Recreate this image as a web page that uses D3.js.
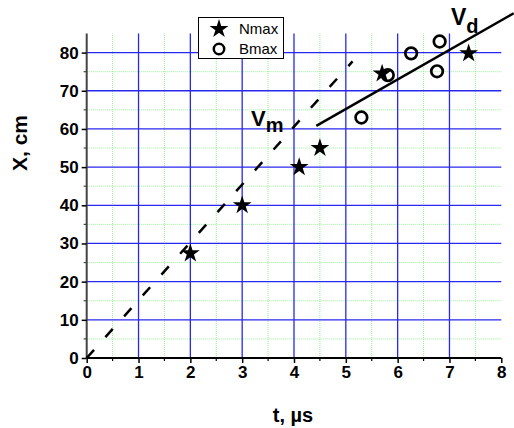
<!DOCTYPE html>
<html><head><meta charset="utf-8">
<script src="https://cdn.jsdelivr.net/npm/d3@7"></script>
<style>html,body{margin:0;padding:0;background:#fff;}svg{display:block;font-family:"Liberation Sans",Arial,sans-serif;}</style>
</head><body>
<svg id="c" width="514" height="428"></svg>
<script>
// Data
const nmaxT = [2.0, 3.0, 4.1, 4.5, 5.7, 7.37];
const nmaxX = [27.4, 40.0, 50.0, 55.0, 74.5, 79.8];
const bmaxT = [5.3, 5.81, 6.26, 6.76, 6.81];
const bmaxX = [63.0, 74.1, 79.8, 75.1, 82.9];
const vmT = [0, 5.13];
const vmX = [0, 77.7];
const vdT = [4.43, 8.24];
const vdX = [60.8, 90.3];
const xTicks = [0, 1, 2, 3, 4, 5, 6, 7, 8];
const yTicks = [0, 10, 20, 30, 40, 50, 60, 70, 80];
const xMinor = [0.5, 1.5, 2.5, 3.5, 4.5, 5.5, 6.5, 7.5];
const yMinor = [5, 15, 25, 35, 45, 55, 65, 75];
const legendLabels = ["Nmax", "Bmax"];

const svg = d3.select("#c");
const x = d3.scaleLinear().domain([0, 8]).range([86.7, 501.3]);
const y = d3.scaleLinear().domain([0, 85]).range([358, 33.5]);

// minor grid (green dotted)
const g = svg.append("g");
g.selectAll(".mv").data(xMinor).join("line")
  .attr("x1", d => x(d)).attr("x2", d => x(d)).attr("y1", y(0)).attr("y2", y(85))
  .attr("stroke", "#99ee99").attr("stroke-width", 1).attr("stroke-dasharray", "1,1");
g.selectAll(".mh").data(yMinor).join("line")
  .attr("x1", x(0)).attr("x2", x(8)).attr("y1", d => y(d)).attr("y2", d => y(d))
  .attr("stroke", "#99ee99").attr("stroke-width", 1).attr("stroke-dasharray", "1,1");
// major grid (blue)
g.selectAll(".Mv").data(xTicks.filter(d => d > 0 && d < 8)).join("line")
  .attr("x1", d => x(d)).attr("x2", d => x(d)).attr("y1", y(0)).attr("y2", y(85))
  .attr("stroke", "#2828f0").attr("stroke-width", 1.3);
g.selectAll(".Mh").data(yTicks.filter(d => d > 0)).join("line")
  .attr("x1", x(0)).attr("x2", x(8)).attr("y1", d => y(d)).attr("y2", d => y(d))
  .attr("stroke", "#2828f0").attr("stroke-width", 1.3);

// axes
const xAxis = svg.append("g").attr("transform", `translate(0,${y(0)})`)
  .call(d3.axisBottom(x).tickValues(xTicks).tickSize(5).tickPadding(3).tickFormat(d3.format("d")));
const yAxis = svg.append("g").attr("transform", `translate(${x(0)},0)`)
  .call(d3.axisLeft(y).tickValues(yTicks).tickSize(5).tickPadding(3).tickFormat(d3.format("d")));
[xAxis, yAxis].forEach(a => {
  a.select(".domain").attr("stroke-width", 2);
  a.selectAll(".tick line").attr("stroke-width", 1.5);
  a.selectAll("text").attr("font-size", 17).attr("font-weight", "bold").attr("fill", "#000")
    .attr("font-family", "'Liberation Sans',Arial,sans-serif");
});
yAxis.select(".domain").attr("stroke", "#444").attr("d", `M0,${y(0)}V${y(85)}`);
xAxis.select(".domain").attr("stroke", "#000").attr("d", `M${x(0)},0H${x(8)}`);
// minor ticks
xAxis.selectAll(".mt").data(xMinor).join("line")
  .attr("x1", d => x(d)).attr("x2", d => x(d)).attr("y1", 0).attr("y2", 3)
  .attr("stroke", "#000").attr("stroke-width", 1.2);
yAxis.selectAll(".mt").data(yMinor).join("line")
  .attr("x1", 0).attr("x2", -3).attr("y1", d => y(d)).attr("y2", d => y(d))
  .attr("stroke", "#444").attr("stroke-width", 1.2);

// axis titles
svg.append("text").attr("x", 293).attr("y", 422).attr("text-anchor", "middle")
  .attr("font-size", 20).attr("font-weight", "bold").text("t, µs");
svg.append("text").attr("transform", "translate(27,143) rotate(-90)").attr("text-anchor", "middle")
  .attr("font-size", 21).attr("font-weight", "bold").text("X, cm");

// fit lines
const line = d3.line().x(d => x(d[0])).y(d => y(d[1]));
svg.append("path").datum(d3.zip(vmT, vmX)).attr("d", line)
  .attr("fill", "none").attr("stroke", "#000").attr("stroke-width", 2.5).attr("stroke-dasharray", "11,17");
svg.append("path").datum(d3.zip(vdT, vdX)).attr("d", line)
  .attr("fill", "none").attr("stroke", "#000").attr("stroke-width", 2.5);

// points
const star = d3.symbol().type(d3.symbolStar).size(110);
svg.selectAll(".star").data(d3.zip(nmaxT, nmaxX)).join("path")
  .attr("d", star).attr("transform", d => `translate(${x(d[0])},${y(d[1])})`).attr("fill", "#000");
svg.selectAll(".circ").data(d3.zip(bmaxT, bmaxX)).join("circle")
  .attr("cx", d => x(d[0])).attr("cy", d => y(d[1])).attr("r", 5.8)
  .attr("fill", "none").attr("stroke", "#000").attr("stroke-width", 2.7);

// labels V_m, V_d
const vm = svg.append("text").attr("x", 251).attr("y", 126).attr("font-size", 22).attr("font-weight", "bold");
vm.append("tspan").text("V");
vm.append("tspan").attr("dy", 6).attr("font-size", 20).text("m");
const vd = svg.append("text").attr("x", 451).attr("y", 25).attr("font-size", 23).attr("font-weight", "bold");
vd.append("tspan").text("V");
vd.append("tspan").attr("dy", 8).attr("font-size", 20).text("d");

// legend
const lg = svg.append("g");
lg.append("rect").attr("x", 198.5).attr("y", 17.5).attr("width", 85).attr("height", 41)
  .attr("fill", "#fff").attr("stroke", "#000").attr("stroke-width", 1);
lg.append("path").attr("d", star).attr("transform", "translate(219,29)").attr("fill", "#000");
lg.append("circle").attr("cx", 219).attr("cy", 49).attr("r", 5.2).attr("fill", "none")
  .attr("stroke", "#000").attr("stroke-width", 2.5);
lg.selectAll(".lt").data(legendLabels).join("text")
  .attr("x", 239).attr("y", (d, i) => 34 + i * 20).attr("font-size", 15).text(d => d);
</script>
</body></html>
